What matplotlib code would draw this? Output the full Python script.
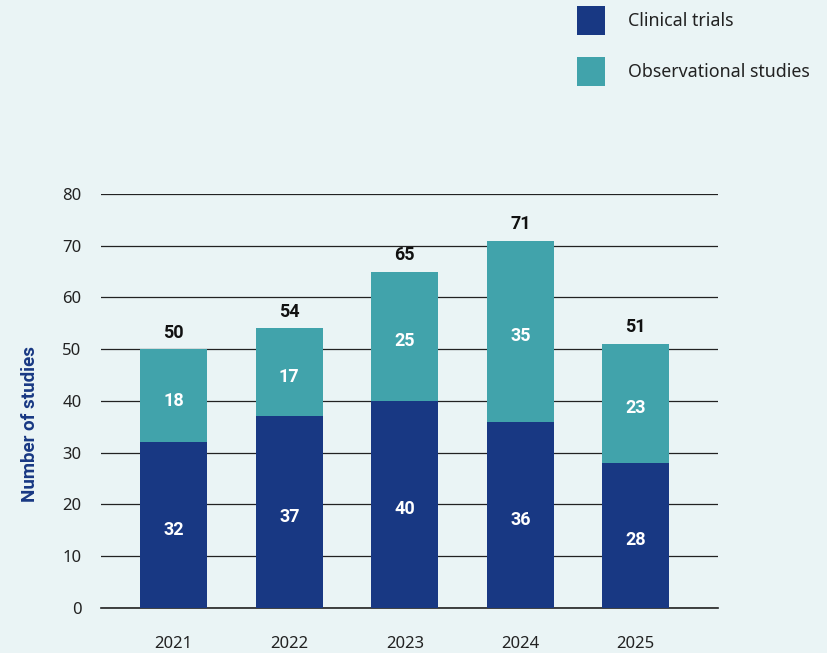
import matplotlib.pyplot as plt
import numpy as np

# data
years = ["2021", "2022", "2023", "2024", "2025"]
clinical = [32, 37, 40, 36, 28]
observational = [18, 17, 25, 35, 23]
totals = [c + o for c, o in zip(clinical, observational)]

bg = "#eaf4f5"
dark_blue = "#183883"
teal = "#41a3ab"

plt.rcParams['font.family'] = ['Noto Sans', 'DejaVu Sans']
bold_font = ['Roboto', 'DejaVu Sans']

fig = plt.figure(figsize=(8.28, 6.53), dpi=100, facecolor=bg)
ax = fig.add_axes([0.122, 0.069, 0.745, 0.634], facecolor=bg)

x = np.arange(len(years))
w = 0.58
b1 = ax.bar(x, clinical, w, color=dark_blue, zorder=3, label="Clinical trials")
b2 = ax.bar(x, observational, w, bottom=clinical, color=teal, zorder=3,
            label="Observational studies")

# segment values and totals
lbl = dict(fontsize=13, fontweight="bold", family=bold_font, zorder=4,
           textcoords="offset points", ha="center")
for i in range(len(years)):
    ax.annotate(str(clinical[i]), (x[i], clinical[i] / 2), xytext=(0, -3.5),
                va="center", color="white", **lbl)
    ax.annotate(str(observational[i]), (x[i], clinical[i] + observational[i] / 2),
                xytext=(0, -3.5), va="center", color="white", **lbl)
    ax.annotate(str(totals[i]), (x[i], totals[i]), xytext=(0, 5.5),
                va="bottom", color="#111111", **lbl)

ax.set_xlim(-0.63, 4.71)
ax.set_ylim(0, 80)
ax.set_yticks(range(0, 81, 10))
ax.set_xticks(x)
ax.set_xticklabels(years)
ax.yaxis.grid(True, color="#222222", linewidth=0.9, zorder=0)
ax.axhline(0, color="#222222", linewidth=1.2, zorder=2, clip_on=False)
ax.set_axisbelow(True)
for s in ax.spines.values():
    s.set_visible(False)
ax.tick_params(axis="both", length=0, labelsize=12, colors="#222222")
ax.tick_params(axis="y", pad=14)
ax.tick_params(axis="x", pad=20)

ax.set_ylabel("Number of studies", color=dark_blue, fontsize=13.5,
              fontweight="bold", family=bold_font)
ax.yaxis.set_label_coords(-0.101, 0.444)

fig.legend(handles=[b1, b2], loc="upper left",
           bbox_to_anchor=(577 / 828, 1 - 6 / 653),
           frameon=False, fontsize=12.8, handlelength=1.58, handleheight=2.15,
           handletextpad=1.3, labelspacing=1.22, borderpad=0,
           borderaxespad=0, labelcolor="#222222")

fig.savefig("out.png", dpi=100, facecolor=bg)
